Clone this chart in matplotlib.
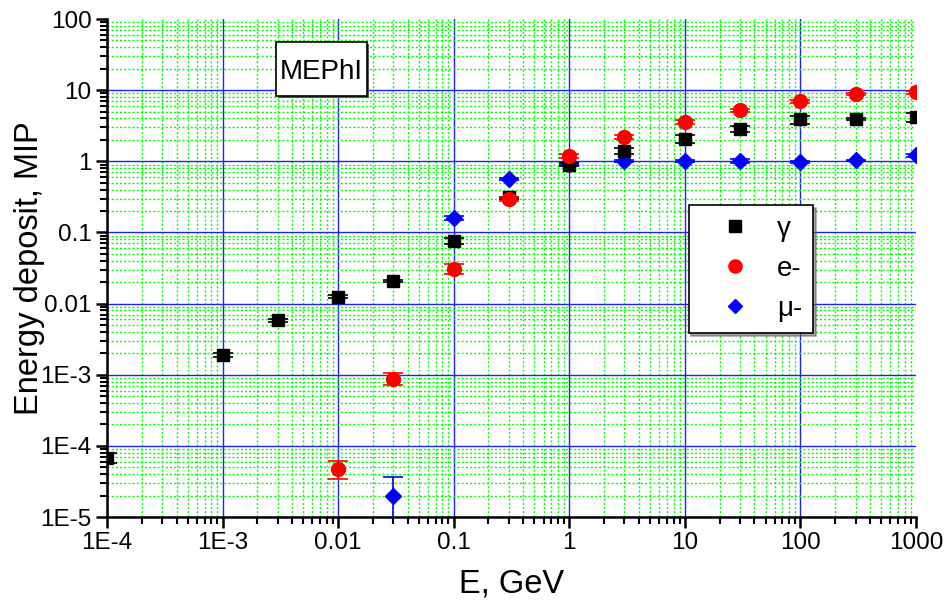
import matplotlib
matplotlib.use("Agg")
import matplotlib.pyplot as plt
from matplotlib.ticker import FixedLocator, FixedFormatter, LogLocator, NullFormatter
from matplotlib.lines import Line2D
from matplotlib.patches import Rectangle
import numpy as np

plt.rcParams['font.family'] = ['Liberation Sans', 'DejaVu Sans']

# Photons
gamma_E = [1e-4, 1e-3, 3e-3, 0.01, 0.03, 0.1, 0.3, 1, 3, 10, 30, 100, 300, 1000]
gamma_dep = [6.7e-5, 1.9e-3, 5.8e-3, 0.0125, 0.021, 0.075, 0.31, 0.90, 1.38, 2.05, 2.8, 3.9, 3.9, 4.2]
gamma_lo = [5.7e-5, 1.8e-3, 5.5e-3, 0.0120, 0.0202, 0.068, 0.30, 0.86, 1.25, 1.78, 2.55, 3.4, 3.8, 3.6]
gamma_hi = [7.9e-5, 2.0e-3, 6.1e-3, 0.0131, 0.0218, 0.083, 0.32, 0.94, 1.52, 2.35, 3.1, 4.4, 4.0, 4.8]

# Electrons
e_E = [0.01, 0.03, 0.1, 0.3, 1, 3, 10, 30, 100, 300, 1000]
e_dep = [4.7e-5, 8.8e-4, 0.031, 0.30, 1.19, 2.2, 3.6, 5.2, 7.0, 8.8, 9.3]
e_lo = [3.4e-5, 7.2e-4, 0.026, 0.28, 1.13, 2.08, 3.4, 4.9, 6.7, 8.5, 8.8]
e_hi = [6.1e-5, 1.06e-3, 0.036, 0.32, 1.25, 2.32, 3.8, 5.5, 7.3, 9.1, 9.8]

# Muons
mu_E = [0.03, 0.1, 0.3, 1, 3, 10, 30, 100, 300, 1000]
mu_dep = [2.0e-5, 0.16, 0.57, 0.93, 1.0, 1.0, 1.02, 0.98, 1.03, 1.21]
mu_lo = [1e-7, 0.15, 0.55, 0.90, 0.97, 0.97, 0.96, 0.95, 1.0, 1.15]
mu_hi = [3.6e-5, 0.17, 0.59, 0.96, 1.03, 1.03, 1.08, 1.01, 1.06, 1.27]

x_ticks = [1e-4, 1e-3, 1e-2, 1e-1, 1, 10, 100, 1000]
x_labels = ['1E-4', '1E-3', '0.01', '0.1', '1', '10', '100', '1000']
y_ticks = [1e-5, 1e-4, 1e-3, 1e-2, 1e-1, 1, 10, 100]
y_labels = ['1E-5', '1E-4', '1E-3', '0.01', '0.1', '1', '10', '100']

fig = plt.figure(figsize=(9.44, 6.04), dpi=100)
ax = fig.add_axes([0.1133, 0.144, 0.857, 0.8245])
ax.set_xscale('log')
ax.set_yscale('log')
ax.set_xlim(1e-4, 1000)
ax.set_ylim(1e-5, 100)


def draw(E, dep, lo, hi, color, marker, ms, z):
    dep = np.asarray(dep)
    yerr = [dep - np.asarray(lo), np.asarray(hi) - dep]
    ax.errorbar(E, dep, yerr=yerr, fmt=marker, color=color, ms=ms,
                mec=color, ecolor=color, elinewidth=1.2, capsize=7.5,
                capthick=1.2, zorder=z)


draw(mu_E, mu_dep, mu_lo, mu_hi, '#0000ff', 'D', 8.5, 3)
draw(gamma_E, gamma_dep, gamma_lo, gamma_hi, 'black', 's', 9, 4)
draw(e_E, e_dep, e_lo, e_hi, '#ff0000', 'o', 10, 5)

ax.xaxis.set_major_locator(FixedLocator(x_ticks))
ax.xaxis.set_major_formatter(FixedFormatter(x_labels))
ax.yaxis.set_major_locator(FixedLocator(y_ticks))
ax.yaxis.set_major_formatter(FixedFormatter(y_labels))
ax.xaxis.set_minor_locator(LogLocator(base=10, subs=np.arange(2, 10), numticks=20))
ax.yaxis.set_minor_locator(LogLocator(base=10, subs=np.arange(2, 10), numticks=20))
ax.xaxis.set_minor_formatter(NullFormatter())
ax.yaxis.set_minor_formatter(NullFormatter())

ax.grid(which='minor', color='#00ff00', linestyle=(0, (1.5, 1.5)), linewidth=1.0, zorder=0)
ax.grid(which='major', color='#2020ff', linestyle='-', linewidth=1.0, zorder=1)
ax.set_axisbelow(True)

# no blue grid line along the open top and right edges
ax.xaxis.get_major_ticks()[-1].gridline.set_visible(False)
ax.yaxis.get_major_ticks()[-1].gridline.set_visible(False)

for s in ['top', 'right']:
    ax.spines[s].set_visible(False)
for s in ['left', 'bottom']:
    ax.spines[s].set_linewidth(1.8)

ax.tick_params(which='major', direction='out', length=8, width=1.8, labelsize=17.5, pad=3)
ax.tick_params(which='minor', direction='out', length=5, width=1.5)

ax.set_xlabel('E, GeV', fontsize=23.5, labelpad=10)
ax.set_ylabel('Energy deposit, MIP', fontsize=23.5, labelpad=-3)

# framed caption with a small drop shadow
bx0, by0, bw, bh = 0.2089, 0.8454, 0.1125, 0.1084
ax.add_patch(Rectangle((bx0 + 0.003, by0 - 0.004), bw, bh, transform=ax.transAxes,
                       facecolor='#555555', edgecolor='none', zorder=9))
ax.add_patch(Rectangle((bx0, by0), bw, bh, transform=ax.transAxes,
                       facecolor='white', edgecolor='black', linewidth=1.2, zorder=9.5))
ax.text(bx0 + bw / 2, by0 + bh / 2, 'MEPhI', transform=ax.transAxes, fontsize=20,
        ha='center', va='center_baseline', zorder=10)

handles = [
    Line2D([], [], marker='s', color='black', ls='none', ms=8.5),
    Line2D([], [], marker='o', color='#ff0000', ls='none', ms=9.5),
    Line2D([], [], marker='D', color='#0000ff', ls='none', ms=7.5),
]
leg = ax.legend(handles, ['\u03b3', 'e-', '\u03bc-'], loc='upper left',
                bbox_to_anchor=(0.719, 0.627), fontsize=20, frameon=True,
                fancybox=False, edgecolor='black', framealpha=1,
                handlelength=2.57, handletextpad=0.2, labelspacing=0.5,
                borderpad=0.4, borderaxespad=0, shadow={'color': '#555555', 'ox': 2, 'oy': -2})
leg.get_frame().set_linewidth(1.2)
leg.set_zorder(10)

fig.savefig('out.png', dpi=100)
